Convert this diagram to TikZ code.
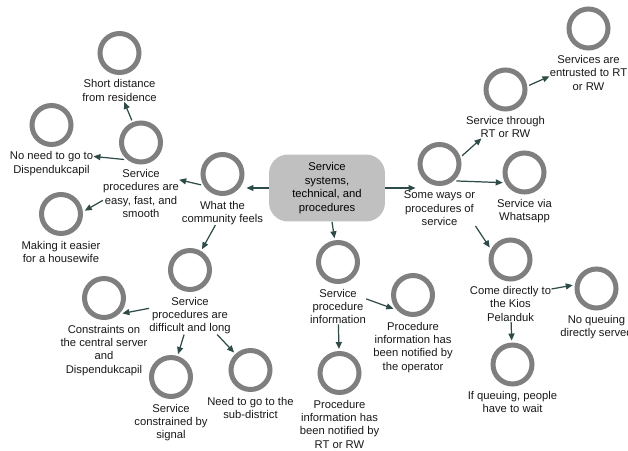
\documentclass[tikz,border=0pt]{standalone}
\usepackage{fontspec}
\setmainfont{Liberation Sans}
\usepackage{xcolor}
\usepackage{tikz}
\usetikzlibrary{positioning, calc, arrows.meta}

\definecolor{ringgray}{HTML}{7F7F7F}
\definecolor{coregray}{HTML}{C0C0C0}
\definecolor{linkteal}{HTML}{2E4B48}

\begin{document}
\begin{tikzpicture}[x=0.02cm, y=-0.02cm,
        concept/.style = {draw=ringgray, line width=0.1cm, circle,
            minimum size=0.78cm, inner sep=0pt, outer sep=0.09cm},
        caption/.style = {align=center, inner sep=0pt, text=black!90,
            font=\fontsize{6.4}{7.65}\selectfont},
        link/.style = {draw=linkteal, line width=0.7pt,
            -{Triangle[length=0.14cm, width=0.12cm]}},
        node distance=0.05cm]
        \useasboundingbox (0,0) rectangle (628,450);
        \fill [white] (0,0) rectangle (628,450);

        % centre
        \node (core) [fill=coregray, rounded corners=0.38cm, minimum width =
        2.32cm, minimum height = 1.34cm, align=center, inner sep=0pt,
        font=\fontsize{6.4}{7.65}\selectfont] at (327,188)
        {Service\\systems,\\technical, and\\procedures};

        % left branch
        \node (cFeel) [concept] at (222.5,174) {};
        \node (lFeel) [caption, below=of cFeel] {What the\\community feels};
        \node (cEasy) [concept] at (141,142.5) {};
        \node (lEasy) [caption, below=of cEasy]
        {Service\\procedures are\\easy, fast, and\\smooth};
        \node (cNear) [concept] at (119.5,53) {};
        \node (lNear) [caption, below=of cNear] {Short distance\\from residence};
        \node (cNoNeed) [concept] at (51.5,125) {};
        \node (lNoNeed) [caption, below=of cNoNeed]
        {No need to go to\\Dispendukcapil};
        \node (cHouse) [concept] at (61,214) {};
        \node (lHouse) [caption, below=of cHouse]
        {Making it easier\\for a housewife};
        \node (cHard) [concept] at (190,270) {};
        \node (lHard) [caption, below=of cHard]
        {Service\\procedures are\\difficult and long};
        \node (cServer) [concept] at (104,298) {};
        \node (lServer) [caption, below=of cServer]
        {Constraints on\\the central server\\and\\Dispendukcapil};
        \node (cSignal) [concept] at (171,377) {};
        \node (lSignal) [caption, below=of cSignal]
        {Service\\constrained by\\signal};
        \node (cSub) [concept] at (250.5,370) {};
        \node (lSub) [caption, below=of cSub] {Need to go to the\\sub-district};

        % middle branch
        \node (cInfo) [concept] at (338,262) {};
        \node (lInfo) [caption, below=of cInfo]
        {Service\\procedure\\information};
        \node (cOper) [concept] at (413,295) {};
        \node (lOper) [caption, below=of cOper]
        {Procedure\\information has\\been notified by\\the operator};
        \node (cRTRW) [concept] at (339.5,373) {};
        \node (lRTRW) [caption, below=of cRTRW]
        {Procedure\\information has\\been notified by\\RT or RW};

        % right branch
        \node (cWays) [concept] at (439.5,164) {};
        \node (lWays) [caption, below=of cWays]
        {Some ways or\\procedures of\\service};
        \node (cThrough) [concept] at (505.5,89.5) {};
        \node (lThrough) [caption, below=of cThrough]
        {Service through\\RT or RW};
        \node (cTrust) [concept] at (588.5,28.5) {};
        \node (lTrust) [caption, below=of cTrust]
        {Services are\\entrusted to RT\\or RW};
        \node (cWa) [concept] at (524.5,172.5) {};
        \node (lWa) [caption, below=of cWa] {Service via\\Whatsapp};
        \node (cKios) [concept] at (510.5,259.5) {};
        \node (lKios) [caption, below=of cKios]
        {Come directly to\\the Kios\\Pelanduk};
        \node (cQueue) [concept] at (596.5,288.5) {};
        \node (lQueue) [caption, below=of cQueue]
        {No queuing\\directly served};
        \node (cWait) [concept] at (512.5,364.5) {};
        \node (lWait) [caption, below=of cWait]
        {If queuing, people\\have to wait};

        % links
        \draw [link] (core.west) -- (core.west -| cFeel.east);
        \draw [link] (cFeel.207) -- (lEasy.20);
        \draw [link] (cEasy) -- (lNear);
        \draw [link] (cEasy.225) -- (lNoNeed.10);
        \draw [link] (lEasy.190) -- (cHouse.8);
        \draw [link] (lFeel.-120) -- (cHard.60);
        \draw [link] (lHard.170) -- (cServer.-40);
        \draw [link] (lHard) -- (cSignal);
        \draw [link] (lHard.-35) -- (cSub);
        \draw [link] (core) -- (cInfo);
        \draw [link] (lInfo.15) -- (cOper.215);
        \draw [link] (lInfo) -- (cRTRW);
        \draw [link] (core.east) -- (core.east -| cWays.west);
        \draw [link] (cWays.20) -- (lThrough.-155);
        \draw [link] (cThrough.10) -- (lTrust.185);
        \draw [link] (cWays.-45) -- (cWa.205);
        \draw [link] (lWays.south east) -- (cKios.150);
        \draw [link] (lKios.20) -- (cQueue.172);
        \draw [link] (lKios) -- (cWait);
    \end{tikzpicture}
\end{document}
